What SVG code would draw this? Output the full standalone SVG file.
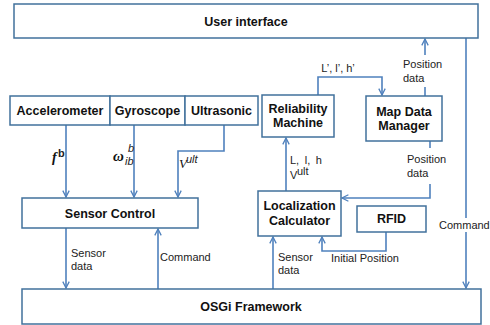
<svg xmlns="http://www.w3.org/2000/svg" width="490" height="325" viewBox="0 0 490 325">
<style>
.box{fill:#fff;stroke:#41719C;stroke-width:1.5}
.t{font-family:"Liberation Sans",Arial,sans-serif;font-weight:bold;font-size:12.5px;fill:#111;text-anchor:middle}
.l{font-family:"Liberation Sans",Arial,sans-serif;font-size:11px;fill:#222}
.c{fill:none;stroke:#4F81BD;stroke-width:1.6}
.m{font-family:"Liberation Serif","Times New Roman",serif;fill:#111}
</style>
<defs>
<marker id="a" viewBox="0 0 10 10" refX="9" refY="5" markerWidth="8" markerHeight="8" markerUnits="userSpaceOnUse" orient="auto">
<path d="M1,1 L9,5 L1,9" fill="none" stroke="#4F81BD" stroke-width="1.6"/>
</marker>
</defs>
<rect width="490" height="325" fill="#fff"/>
<g id="connectors">
<path class="c" d="M66,125 V197" marker-end="url(#a)"/>
<path class="c" d="M134,125 V197" marker-end="url(#a)"/>
<path class="c" d="M224,125 V151 H178 V197" marker-end="url(#a)"/>
<path class="c" d="M66,228 V288" marker-end="url(#a)"/>
<path class="c" d="M158,289 V229" marker-end="url(#a)"/>
<path class="c" d="M286,191 V138" marker-end="url(#a)"/>
<path class="c" d="M318,95 V77 H382 V95" marker-end="url(#a)"/>
<path class="c" d="M425,96 V87"/>
<path class="c" d="M425,55 V39" marker-end="url(#a)"/>
<path class="c" d="M430,141 V148"/>
<path class="c" d="M430,184 V198 H342" marker-end="url(#a)"/>
<path class="c" d="M386,232 V251 H322 V237" marker-end="url(#a)"/>
<path class="c" d="M273,289 V237" marker-end="url(#a)"/>
<path class="c" d="M466,38 V288" marker-end="url(#a)"/>
</g>
<g id="user-interface"><rect class="box" x="14" y="4" width="464" height="34"/><text class="t" x="246" y="26">User interface</text></g>
<g id="accelerometer"><rect class="box" x="10" y="96" width="100" height="29"/><text class="t" x="60" y="115">Accelerometer</text></g>
<g id="gyroscope"><rect class="box" x="110" y="96" width="75" height="29"/><text class="t" x="147.5" y="115">Gyroscope</text></g>
<g id="ultrasonic"><rect class="box" x="185" y="96" width="73" height="29"/><text class="t" x="221.5" y="115">Ultrasonic</text></g>
<g id="reliability-machine"><rect class="box" x="262" y="95" width="72" height="42"/><text class="t" x="298" y="113">Reliability</text><text class="t" x="298" y="127">Machine</text></g>
<g id="map-data-manager"><rect class="box" x="366" y="96" width="76" height="45"/><text class="t" x="404" y="116">Map Data</text><text class="t" x="404" y="130">Manager</text></g>
<g id="sensor-control"><rect class="box" x="22" y="198" width="176" height="30"/><text class="t" x="110" y="218">Sensor Control</text></g>
<g id="localization-calculator"><rect class="box" x="258" y="191" width="83" height="45"/><text class="t" x="299.5" y="210">Localization</text><text class="t" x="299.5" y="225">Calculator</text></g>
<g id="rfid"><rect class="box" x="357" y="206" width="69" height="26"/><text class="t" x="391.5" y="223">RFID</text></g>
<g id="osgi-framework"><rect class="box" x="22" y="289" width="459" height="35"/><text class="t" x="251" y="311">OSGi Framework</text></g>
<g id="labels">
<text class="m" x="52" y="162" font-size="14" font-style="italic" font-weight="bold">f</text>
<text class="l" x="58" y="157" font-size="10" font-weight="bold">b</text>
<text class="m" x="113" y="161" font-size="15" font-style="italic" font-weight="bold">ω</text>
<text class="l" x="128" y="152" font-size="9.5" font-style="italic">b</text>
<text class="l" x="125" y="165" font-size="9.5" font-style="italic">ib</text>
<text class="m" x="179" y="168" font-size="13" font-style="italic">V</text>
<text class="l" x="186" y="163" font-size="8" font-style="italic">ult</text>
<text class="l" x="290" y="164" word-spacing="2.5">L, l, h</text>
<text class="l" x="290" y="179">V</text>
<text class="l" x="297" y="175" font-size="7.5">ult</text>
<text class="l" x="338" y="72" text-anchor="middle">L’, l’, h’</text>
<text class="l" x="403" y="68">Position</text>
<text class="l" x="403" y="82">data</text>
<text class="l" x="407" y="163">Position</text>
<text class="l" x="407" y="177">data</text>
<text class="l" x="331" y="262">Initial Position</text>
<text class="l" x="278" y="261">Sensor</text>
<text class="l" x="278" y="274">data</text>
<text class="l" x="71" y="257">Sensor</text>
<text class="l" x="71" y="270">data</text>
<text class="l" x="160" y="261">Command</text>
<rect x="439" y="218" width="46" height="14" fill="#fff"/>
<text class="l" x="439" y="229" font-size="10.5">Command</text>
</g>
</svg>
